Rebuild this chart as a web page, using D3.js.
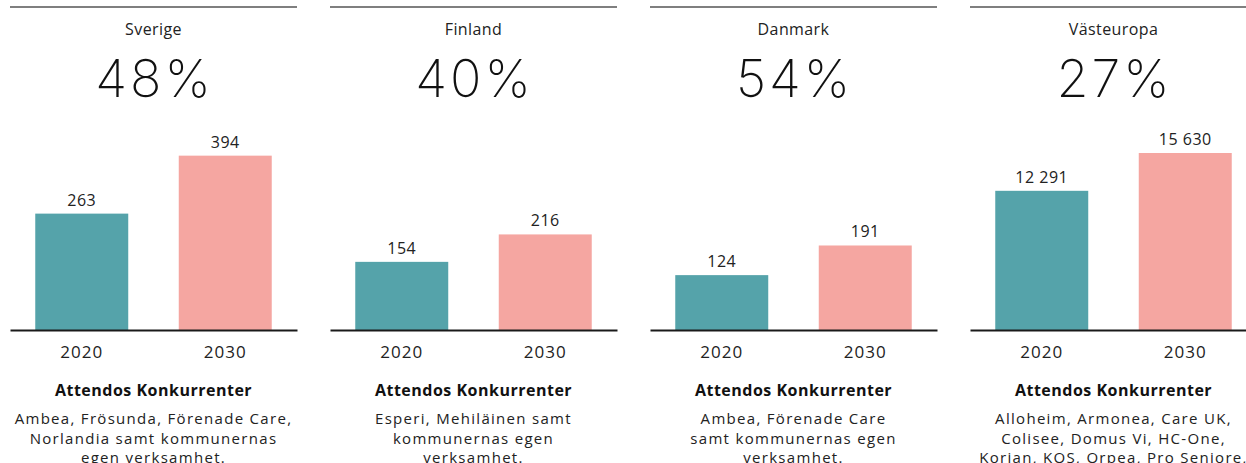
<!DOCTYPE html>
<html>
<head>
<meta charset="utf-8">
<script src="https://cdn.jsdelivr.net/npm/d3@7"></script>
<style>
  html, body { margin: 0; padding: 0; background: #fff; }
  svg { display: block; font-family: "Open Sans", "DejaVu Sans", sans-serif; }
</style>
</head>
<body>
<svg id="chart" width="1246" height="463"></svg>
<script>
const regions = ["Sverige", "Finland", "Danmark", "Västeuropa"];
const growth = ["48%", "40%", "54%", "27%"];
const years = ["2020", "2030"];
const values2020 = [263, 154, 124, 12291];
const values2030 = [394, 216, 191, 15630];
const valueLabels2020 = ["263", "154", "124", "12 291"];
const valueLabels2030 = ["394", "216", "191", "15 630"];
const domainMax = [400, 400, 400, 15630];
const competitorsTitle = "Attendos Konkurrenter";
const competitors = [
  ["Ambea, Frösunda, Förenade Care,", "Norlandia samt kommunernas", "egen verksamhet."],
  ["Esperi, Mehiläinen samt", "kommunernas egen", "verksamhet."],
  ["Ambea, Förenade Care", "samt kommunernas egen", "verksamhet."],
  ["Alloheim, Armonea, Care UK,", "Colisee, Domus Vi, HC-One,", "Korian, KOS, Orpea, Pro Seniore,"]
];
const colors = ["#55a3aa", "#f5a6a1"];

const svg = d3.select("#chart");
const panelW = 287, panelStep = 320, panelX0 = 10;
const baseY = 330, barH = 177;
const textColor = "#222";

regions.forEach((name, i) => {
  const g = svg.append("g").attr("transform", `translate(${panelX0 + i * panelStep},0)`);
  const cx = panelW / 2;

  g.append("line").attr("x1", 0).attr("x2", panelW).attr("y1", 7).attr("y2", 7)
    .attr("stroke", "#555").attr("stroke-width", 1.5);

  g.append("text").attr("x", cx).attr("y", 35).attr("text-anchor", "middle")
    .attr("font-size", 16).attr("fill", textColor).attr("letter-spacing", 0.4).text(name);

  g.append("text").attr("x", cx + 1).attr("y", 97).attr("text-anchor", "middle")
    .attr("font-family", "Inter, \"Open Sans\", sans-serif")
    .attr("font-size", 52).attr("font-weight", 200).attr("fill", "#111")
    .attr("letter-spacing", 3).text(growth[i]);

  const x = d3.scaleBand().domain(years).range([0, panelW]).paddingInner(0.352).paddingOuter(0.176);
  const y = d3.scaleLinear().domain([0, domainMax[i]]).range([baseY, baseY - barH]);

  const data = [
    { year: years[0], v: values2020[i], label: valueLabels2020[i], c: colors[0] },
    { year: years[1], v: values2030[i], label: valueLabels2030[i], c: colors[1] }
  ];

  g.selectAll("rect.bar").data(data).enter().append("rect")
    .attr("class", "bar")
    .attr("x", d => x(d.year)).attr("width", x.bandwidth())
    .attr("y", d => y(d.v)).attr("height", d => baseY - y(d.v))
    .attr("fill", d => d.c);

  g.selectAll("text.val").data(data).enter().append("text")
    .attr("class", "val")
    .attr("x", d => x(d.year) + x.bandwidth() / 2).attr("y", d => y(d.v) - 8)
    .attr("text-anchor", "middle").attr("font-size", 16).attr("fill", textColor)
    .attr("letter-spacing", 0.5)
    .text(d => d.label);

  const axis = d3.axisBottom(x).tickSize(0).tickPadding(12);
  const ag = g.append("g").attr("transform", `translate(0,${baseY})`).call(axis);
  ag.select(".domain").attr("stroke", "#1a1a1a").attr("stroke-width", 2);
  ag.selectAll(".tick text").attr("font-size", 17).attr("fill", textColor)
    .attr("font-family", "\"Open Sans\", sans-serif").attr("letter-spacing", 1)
    .attr("dy", null).attr("y", 28);

  g.append("text").attr("x", cx).attr("y", 396).attr("text-anchor", "middle")
    .attr("font-size", 16).attr("font-weight", 700).attr("fill", "#111")
    .attr("letter-spacing", 0.5)
    .text(competitorsTitle);

  competitors[i].forEach((line, k) => {
    g.append("text").attr("x", cx).attr("y", 424 + k * 19.5).attr("text-anchor", "middle")
      .attr("font-size", 15).attr("fill", textColor).attr("letter-spacing", 1.3).text(line);
  });
});
</script>
</body>
</html>
